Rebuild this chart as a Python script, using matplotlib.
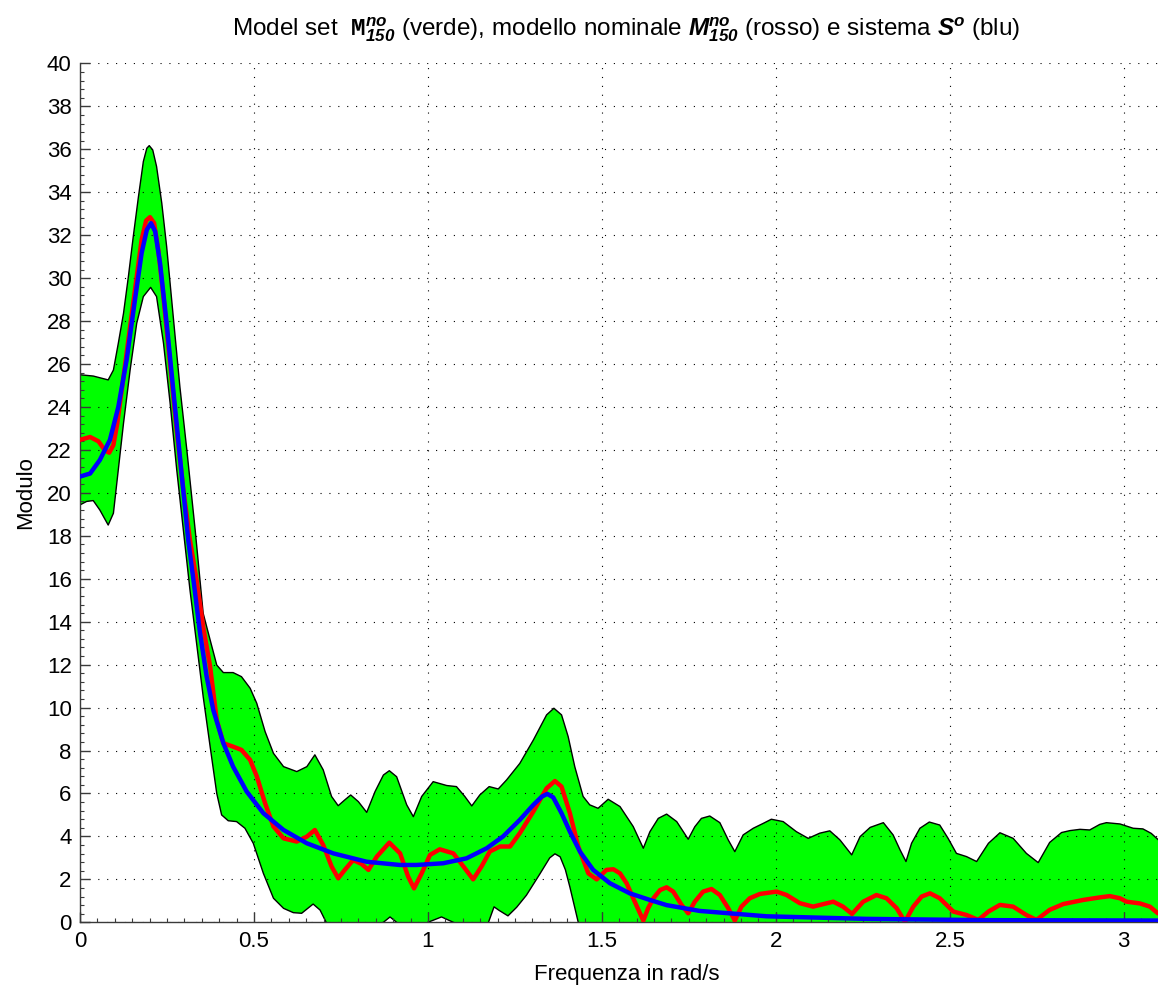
import numpy as np
import matplotlib
matplotlib.use('Agg')
import matplotlib.pyplot as plt
from matplotlib.ticker import MultipleLocator, AutoMinorLocator

plt.rcParams['font.family'] = ['Liberation Sans', 'DejaVu Sans']
plt.rcParams['mathtext.fontset'] = 'custom'
plt.rcParams['mathtext.rm'] = 'Liberation Sans'
plt.rcParams['mathtext.it'] = 'Liberation Sans:italic'
plt.rcParams['mathtext.bf'] = 'Liberation Sans:bold:italic'
plt.rcParams['mathtext.tt'] = 'Liberation Mono:bold'

# fascia del model set: limite superiore
x_sup = [0, 0.038, 0.081, 0.096, 0.11, 0.125, 0.139, 0.153, 0.168, 0.182,
         0.192, 0.199, 0.209, 0.22, 0.235, 0.249, 0.268, 0.287, 0.307, 0.331,
         0.354, 0.374, 0.393, 0.412, 0.44, 0.464, 0.489, 0.508, 0.532, 0.556,
         0.585, 0.623, 0.652, 0.675, 0.699, 0.723, 0.742, 0.761, 0.778, 0.8,
         0.824, 0.848, 0.872, 0.889, 0.91, 0.939, 0.958, 0.982, 1.015, 1.054,
         1.082, 1.106, 1.126, 1.149, 1.176, 1.202, 1.226, 1.264, 1.303, 1.341,
         1.362, 1.384, 1.403, 1.422, 1.446, 1.465, 1.489, 1.518, 1.552, 1.59,
         1.619, 1.638, 1.662, 1.686, 1.715, 1.734, 1.748, 1.767, 1.786, 1.81,
         1.839, 1.863, 1.882, 1.906, 1.935, 1.964, 1.987, 2.021, 2.059, 2.093,
         2.126, 2.155, 2.184, 2.218, 2.242, 2.271, 2.309, 2.337, 2.357, 2.374,
         2.39, 2.414, 2.441, 2.471, 2.495, 2.519, 2.548, 2.577, 2.611, 2.644,
         2.682, 2.72, 2.754, 2.787, 2.821, 2.845, 2.874, 2.902, 2.931, 2.95,
         2.989, 3.027, 3.055, 3.079, 3.098, 3.1416]
y_sup = [25.5, 25.44, 25.26, 25.72, 26.96, 28.36, 30.07, 31.93, 33.8, 35.43,
         36.05, 36.17, 35.97, 35.2, 33.49, 31.47, 28.2, 24.95, 22.0, 18.27,
         14.39, 13.15, 11.98, 11.63, 11.63, 11.44, 10.9, 10.2, 8.88, 7.87,
         7.25, 7.02, 7.25, 7.8, 7.1, 5.86, 5.43, 5.7, 5.93, 5.62,
         5.12, 6.09, 6.86, 7.06, 6.78, 5.47, 4.92, 5.86, 6.55, 6.37,
         6.32, 5.86, 5.42, 5.93, 6.32, 6.21, 6.63, 7.4, 8.49, 9.66,
         9.97, 9.66, 8.65, 7.25, 5.86, 5.47, 5.31, 5.73, 5.39, 4.46,
         3.45, 4.22, 4.84, 5.04, 4.69, 4.22, 3.87, 4.45, 4.84, 4.95,
         4.64, 3.84, 3.29, 4.07, 4.38, 4.61, 4.8, 4.69, 4.22, 3.91,
         4.15, 4.26, 3.84, 3.14, 3.99, 4.42, 4.64, 4.07, 3.37, 2.83,
         3.68, 4.38, 4.67, 4.53, 3.91, 3.21, 3.06, 2.83, 3.68, 4.17,
         3.91, 3.21, 2.78, 3.72, 4.18, 4.27, 4.33, 4.3, 4.56, 4.64,
         4.58, 4.38, 4.35, 4.14, 3.86, 3.3]

# fascia del model set: limite inferiore (sotto lo zero resta fuori dal grafico)
x_inf = [0, 0.019, 0.038, 0.057, 0.081, 0.096, 0.11, 0.125, 0.144, 0.163,
         0.182, 0.203, 0.22, 0.24, 0.259, 0.278, 0.297, 0.316, 0.335, 0.354,
         0.374, 0.393, 0.407, 0.426, 0.45, 0.474, 0.498, 0.527, 0.556, 0.585,
         0.613, 0.637, 0.67, 0.69, 0.709, 0.78, 0.872, 0.891, 0.91, 0.95,
         1.0, 1.039, 1.073, 1.12, 1.174, 1.19, 1.205, 1.23, 1.255, 1.283,
         1.322, 1.35, 1.365, 1.38, 1.395, 1.408, 1.432, 1.5, 2.0, 2.5,
         3.1416]
y_inf = [19.44, 19.6, 19.64, 19.2, 18.5, 19.05, 21.07, 23.24, 25.72, 27.9,
         29.14, 29.57, 29.14, 26.96, 24.17, 21.07, 18.27, 15.48, 13.0, 10.51,
         8.18, 6.0, 5.0, 4.73, 4.69, 4.38, 3.68, 2.28, 1.12, 0.65,
         0.45, 0.42, 0.85, 0.57, -0.05, -0.6, 0.0, 0.25, 0.0, -0.6,
         0.0, 0.25, 0.0, -0.6, 0.0, 0.72, 0.55, 0.3, 0.7, 1.26,
         2.26, 3.0, 3.19, 3.05, 2.45, 1.64, 0.0, -2.0, -2.5, -3.0,
         -3.0]

# modello nominale (rosso)
x_nom = [0, 0.029, 0.053, 0.072, 0.084, 0.096, 0.107, 0.125, 0.144, 0.163,
         0.177, 0.19, 0.201, 0.213, 0.225, 0.24, 0.259, 0.278, 0.297, 0.316,
         0.335, 0.354, 0.374, 0.393, 0.412, 0.44, 0.464, 0.489, 0.508, 0.532,
         0.556, 0.585, 0.623, 0.652, 0.675, 0.699, 0.723, 0.742, 0.761, 0.785,
         0.809, 0.829, 0.853, 0.889, 0.92, 0.943, 0.96, 0.982, 1.006, 1.034,
         1.073, 1.102, 1.13, 1.154, 1.178, 1.207, 1.236, 1.264, 1.303, 1.341,
         1.365, 1.384, 1.408, 1.432, 1.461, 1.485, 1.513, 1.533, 1.552, 1.571,
         1.59, 1.605, 1.619, 1.633, 1.648, 1.667, 1.686, 1.705, 1.729, 1.748,
         1.767, 1.791, 1.815, 1.839, 1.863, 1.882, 1.901, 1.925, 1.954, 2.002,
         2.031, 2.069, 2.107, 2.165, 2.193, 2.219, 2.251, 2.289, 2.318, 2.347,
         2.371, 2.395, 2.419, 2.443, 2.471, 2.51, 2.548, 2.582, 2.611, 2.644,
         2.682, 2.72, 2.749, 2.787, 2.826, 2.883, 2.931, 2.96, 2.989, 3.008,
         3.046, 3.075, 3.098, 3.1416]
y_nom = [22.47, 22.6, 22.4, 21.97, 21.87, 22.23, 23.23, 25.4, 27.74, 30.07,
         31.78, 32.68, 32.84, 32.56, 31.3, 29.1, 26.0, 22.9, 20.14, 17.8,
         15.94, 13.77, 11.9, 9.42, 8.34, 8.18, 8.03, 7.56, 6.8, 5.54,
         4.46, 3.91, 3.76, 3.99, 4.3, 3.6, 2.6, 2.05, 2.44, 2.9,
         2.72, 2.44, 3.06, 3.71, 3.21, 2.13, 1.58, 2.28, 3.14, 3.4,
         3.21, 2.6, 2.0, 2.6, 3.3, 3.53, 3.53, 4.15, 5.16, 6.24,
         6.58, 6.32, 5.08, 3.53, 2.28, 2.0, 2.44, 2.47, 2.28, 1.82,
         1.12, 0.58, 0.08, 0.66, 1.12, 1.5, 1.63, 1.43, 0.81, 0.42,
         0.96, 1.43, 1.55, 1.27, 0.66, 0.08, 0.73, 1.12, 1.32, 1.43,
         1.27, 0.89, 0.73, 0.96, 0.73, 0.39, 0.96, 1.27, 1.12, 0.66,
         0.03, 0.73, 1.2, 1.35, 1.12, 0.5, 0.34, 0.11, 0.5, 0.81,
         0.73, 0.34, 0.11, 0.58, 0.85, 1.04, 1.16, 1.22, 1.12, 0.96,
         0.88, 0.73, 0.42, 0.3]

# sistema vero (blu)
x_sis = [0, 0.029, 0.057, 0.086, 0.11, 0.134, 0.158, 0.177, 0.192, 0.204,
         0.216, 0.23, 0.249, 0.268, 0.287, 0.311, 0.326, 0.345, 0.364, 0.383,
         0.412, 0.44, 0.479, 0.527, 0.585, 0.652, 0.728, 0.824, 0.919, 0.967,
         1.044, 1.111, 1.169, 1.216, 1.264, 1.303, 1.327, 1.343, 1.36, 1.384,
         1.408, 1.437, 1.475, 1.523, 1.58, 1.638, 1.686, 1.781, 1.973, 2.26,
         2.6, 3.1416]
y_sis = [20.76, 20.9, 21.53, 22.47, 24.0, 26.19, 29.0, 31.16, 32.25, 32.56,
         32.17, 30.7, 27.9, 24.8, 21.7, 17.8, 15.94, 13.46, 11.44, 9.89,
         8.34, 7.25, 6.09, 5.08, 4.3, 3.68, 3.21, 2.82, 2.67, 2.67,
         2.75, 2.98, 3.45, 4.0, 4.77, 5.47, 5.85, 5.98, 5.82, 5.08,
         4.22, 3.29, 2.44, 1.82, 1.35, 1.04, 0.8, 0.53, 0.28, 0.16,
         0.1, 0.08]

fig = plt.figure(figsize=(11.58, 9.86), dpi=100)
ax = fig.add_axes([0.0691, 0.0646, 0.9439, 0.8711])

# poligono della fascia: bordo superiore e poi inferiore a ritroso
poly_x = list(x_sup) + list(x_inf[::-1])
poly_y = list(y_sup) + list(y_inf[::-1])
ax.fill(poly_x, poly_y, facecolor='#00ff00', edgecolor='black', linewidth=1.0,
        joinstyle='round', zorder=1)

ax.plot(x_nom, y_nom, color='#ff0000', linewidth=3.2, solid_joinstyle='round', zorder=3)
ax.plot(x_sis, y_sis, color='#0000ff', linewidth=3.2, solid_joinstyle='round', zorder=4)

ax.set_xlim(0, np.pi)
ax.set_ylim(0, 40)
ax.yaxis.set_major_locator(MultipleLocator(2))
ax.set_xticks(np.arange(0, 3.01, 0.5))
ax.set_xticklabels(['0', '0.5', '1', '1.5', '2', '2.5', '3'])
ax.xaxis.set_minor_locator(AutoMinorLocator(10))
ax.yaxis.set_minor_locator(AutoMinorLocator(5))

ax.grid(True, which='major', color='black', linestyle=(0, (1, 7)), linewidth=0.8)
for s in ['top', 'right']:
    ax.spines[s].set_visible(False)
for s in ['left', 'bottom']:
    ax.spines[s].set_color('#3a3a3a')
    ax.spines[s].set_linewidth(1.0)
ax.tick_params(which='major', direction='in', length=7, width=1.0, color='#3a3a3a',
               labelsize=16, pad=6)
ax.tick_params(which='minor', direction='in', length=3, width=0.8, color='#3a3a3a')

ax.set_xlabel('Frequenza in rad/s', fontsize=16, labelpad=9)
ax.set_ylabel('Modulo', fontsize=16, labelpad=8)
ax.set_title(r'Model set  $\mathtt{M}_{\mathbf{150}}^{\mathbf{no}}$ (verde), modello nominale '
             r'$\mathbf{M}_{\mathbf{150}}^{\mathbf{no}}$ (rosso) e sistema $\mathbf{S}^{\mathbf{o}}$ (blu)',
             fontsize=17.5, pad=20)

fig.savefig('out.png', dpi=100)
